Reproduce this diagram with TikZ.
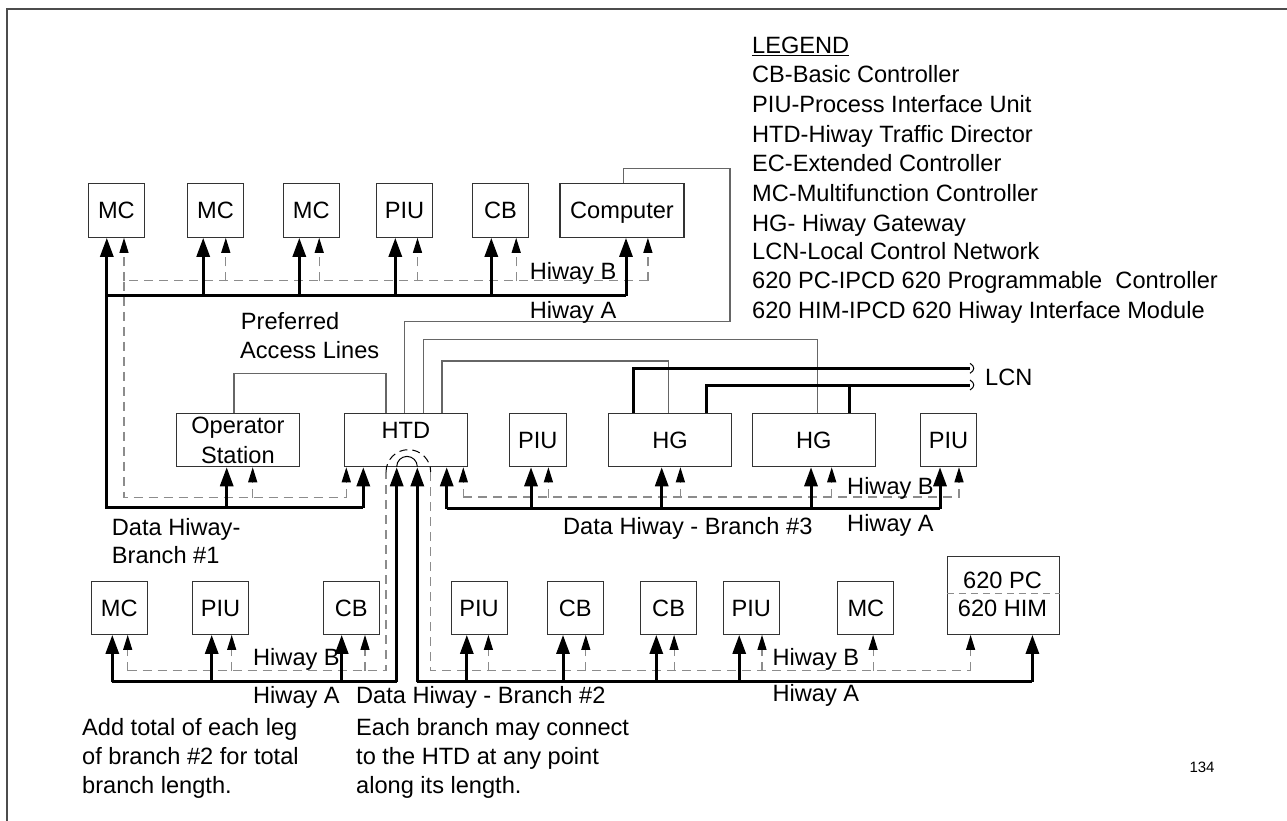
\documentclass[tikz,border=0pt]{standalone}
\usepackage{fontspec}
\setmainfont{Liberation Sans}
\usetikzlibrary{arrows.meta,calc}
\newcommand\fsz{\fontsize{23.6}{29.4}\selectfont}
\newcommand\sA[3]{\draw[hwA,-{Triangle[width=13pt,length=19pt]}] ([xshift=#2pt,yshift=-#3pt]#1.south) -- ([xshift=#2pt]#1.south);}
\newcommand\sB[3]{\draw[hwB,-{Triangle[width=9pt,length=15pt,color=black]}] ([xshift=#2pt,yshift=-#3pt]#1.south) -- ([xshift=#2pt]#1.south);}
\begin{document}
\begin{tikzpicture}[x=1pt,y=-1pt,
  box/.style={draw=black!80, line width=1.1pt, inner sep=0pt, font=\fsz, minimum height=54pt, minimum width=56pt},
  sbox/.style={box, text height=16.9pt, text depth=0pt},
  lbl/.style={inner sep=0pt, font=\fsz, anchor=base west},
  hwA/.style={draw=black, line width=3pt},
  hwB/.style={draw=black!45, line width=1.2pt, dash pattern=on 9pt off 6pt},
  acc/.style={draw=black!60, line width=1.2pt},
  lcn/.style={draw=black, line width=3pt},
  frame/.style={draw=black!70, line width=1.3pt}]
\useasboundingbox (0,0) rectangle (1287,821);
% page frame
\coordinate (f1) at (1287,9);
\coordinate (f2) at (7,9);
\coordinate (f3) at (7,821);
\draw[frame] (f1) -- (f2) -- (f3);

% ---------- top row ----------
\node[sbox] (t1) at (116.4,210.3) {MC};
\node[sbox] (t2) at (215.5,210.3) {MC};
\node[sbox] (t3) at (311.2,210.3) {MC};
\node[sbox] (t4) at (404.5,210.3) {PIU};
\node[sbox] (t5) at (500.4,210.3) {CB};
\node[sbox, minimum width=124pt] (t6) at (622,210.3) {Computer};

% ---------- middle row ----------
\node[box, minimum height=53.4pt, minimum width=122.8pt, align=center, font=\fontsize{23.6}{30}\selectfont] (os) at (237.9,440) {Operator\\Station};
\node[box, minimum height=53.4pt, minimum width=123.2pt] (htd) at (405.9,440) {};
\node[inner sep=0pt, font=\fsz, anchor=base] (htdl) at (405.9,438.3) {HTD};
\node[sbox, minimum height=53.4pt, minimum width=57pt] (p1) at (537.8,440) {PIU};
\node[sbox, minimum height=53.4pt, minimum width=123.4pt] (hg1) at (670,440) {HG};
\node[sbox, minimum height=53.4pt, minimum width=122.7pt] (hg2) at (813.7,440) {HG};
\node[sbox, minimum height=53.4pt] (p2) at (948.5,440) {PIU};

% ---------- bottom row ----------
\node[sbox, minimum height=53.3pt] (b1) at (119.2,607.7) {MC};
\node[sbox, minimum height=53.3pt] (b2) at (220.5,607.7) {PIU};
\node[sbox, minimum height=53.3pt] (b3) at (351.3,607.7) {CB};
\node[sbox, minimum height=53.3pt] (b4) at (479.1,607.7) {PIU};
\node[sbox, minimum height=53.3pt] (b5) at (575.3,607.7) {CB};
\node[sbox, minimum height=53.3pt] (b6) at (668.6,607.7) {CB};
\node[sbox, minimum height=53.3pt] (b7) at (751.3,607.7) {PIU};
\node[sbox, minimum height=53.3pt] (b8) at (865.9,607.7) {MC};
\node[box, minimum height=78.3pt, minimum width=112.3pt] (b9) at (1003.6,595.2) {};
\node[inner sep=0pt, font=\fsz, anchor=base] (b9a) at (1002.5,588) {620 PC};
\node[inner sep=0pt, font=\fsz, anchor=base] (b9b) at (1002.5,616.5) {620 HIM};
\draw[hwB, line width=1pt, dash pattern=on 7pt off 5pt] (b9.west |- 0,593.3) -- (b9.east |- 0,593.3);

% ---------- access lines ----------
\draw[acc] ([xshift=-3.9pt]os.north) -- ++(0,-39) -| ([xshift=-19.9pt]htd.north);
\coordinate (c1) at (730,321.7);
\draw[acc] ([xshift=1.4pt]t6.north) -- ++(0,-14) -| (c1) -| ([xshift=-1.5pt]htd.north);
\draw[acc] ([xshift=17.4pt]htd.north) -- ++(0,-73.3) -| ([xshift=4pt]hg2.north);
\draw[acc] ([xshift=36.1pt]htd.north) -- ++(0,-51.8) -| ([xshift=-1.7pt]hg1.north);

% ---------- LCN ----------
\coordinate (l1) at (970,368.3);
\coordinate (l2) at (970,385);
\draw[lcn] ([xshift=-36.7pt]hg1.north) |- (l1);
\draw[lcn] ([xshift=36pt]hg1.north) |- (l2);
\draw[lcn] ([xshift=35.6pt]hg2.north) -- ++(0,-28.3);
\draw[line width=1pt] ([yshift=5pt]l1) .. controls ([xshift=5pt,yshift=2pt]l1) and ([xshift=5pt,yshift=-2pt]l1) .. ([yshift=-5pt]l1);
\draw[line width=1pt] ([yshift=5pt]l2) .. controls ([xshift=5pt,yshift=2pt]l2) and ([xshift=5pt,yshift=-2pt]l2) .. ([yshift=-5pt]l2);
\node[lbl] (lcnl) at (985,385) {LCN};

% ---------- top hiways ----------
\coordinate (a1) at (626,295.5);
\coordinate (a2) at (106.8,295.5);
\coordinate (a3) at (106.8,507.7);
\coordinate (a4) at (363.3,507.7);
\draw[hwA] (a1) -- (a2) -- (a3) -- (a4);
\coordinate (bb1) at (647.9,280.7);
\coordinate (bb2) at (124,280.7);
\coordinate (bb3) at (124,497.3);
\coordinate (bb4) at (346.3,497.3);
\draw[hwB] (bb1) -- (bb2) -- (bb3) -- (bb4);
\sA{t1}{-9.6}{58.2} \sB{t1}{7.6}{43.4}
\sA{t2}{-12.3}{58.2} \sB{t2}{10.3}{43.4}
\sA{t3}{-11.9}{58.2} \sB{t3}{8}{43.4}
\sA{t4}{-9.2}{58.2} \sB{t4}{13}{43.4}
\sA{t5}{-9.1}{58.2} \sB{t5}{15.8}{43.4}
\sA{t6}{4}{58.2} \sB{t6}{25.9}{43.4}

% branch 1
\sA{os}{-11.2}{41} \sB{os}{14.8}{30.6}
\sA{htd}{-42.6}{41} \sB{htd}{-59.6}{30.6}

% branch 3
\coordinate (d1) at (446.7,508.5);
\coordinate (d2) at (940,508.5);
\draw[hwA] (d1) -- (d2);
\coordinate (e1) at (463.3,497);
\coordinate (e2) at (959,497);
\draw[hwB] (e1) -- (e2);
\sA{htd}{40.8}{41.8} \sB{htd}{57.4}{30.3}
\sA{p1}{-6.8}{41.8} \sB{p1}{10.6}{30.3}
\sA{hg1}{-8.3}{41.8} \sB{hg1}{10.4}{30.3}
\sA{hg2}{-2.7}{41.8} \sB{hg2}{18}{30.3}
\sA{p2}{-8.5}{41.8} \sB{p2}{10.5}{30.3}

% branch 2
\coordinate (g1) at (112.3,681.7);
\coordinate (g2) at (396.7,681.7);
\coordinate (g3) at (417.3,681.7);
\coordinate (g4) at (1032.4,681.7);
\draw[hwA] (g1) -- (g2);
\draw[hwA] (g3) -- (g4);
\sA{htd}{-9.2}{215}
\sA{htd}{11.4}{215}
\coordinate (h1) at (127.7,670.5);
\coordinate (h2) at (386,670.5);
\coordinate (h3) at (386,472);
\coordinate (h4) at (430.7,472);
\coordinate (h5) at (430.7,670.5);
\coordinate (h6) at (970.6,670.5);
\draw[hwB] (h1) -- (h2) -- (h3);
\draw[hwB] (h4) -- (h5) -- (h6);
\draw[black, line width=1pt, dash pattern=on 8pt off 5pt] (h3) arc (180:360:22.35);
\coordinate (k1) at (396.7,466.7);
\draw[black, line width=1pt] (k1) arc (180:360:10.3);
\sA{b1}{-6.9}{47.4} \sB{b1}{8.5}{36.2}
\sA{b2}{-8.8}{47.4} \sB{b2}{11.2}{36.2}
\sA{b3}{-9.6}{47.4} \sB{b3}{13.7}{36.2}
\sA{b4}{-12.3}{47.4} \sB{b4}{9.3}{36.2}
\sA{b5}{-12.3}{47.4} \sB{b5}{10.5}{36.2}
\sA{b6}{-12.3}{47.4} \sB{b6}{5.5}{36.2}
\sA{b7}{-12.1}{47.4} \sB{b7}{10.7}{36.2}
\sB{b8}{7.2}{36.2}
\sA{b9}{28.8}{47.4} \sB{b9}{-33}{36.2}

% ---------- labels ----------
\node[lbl] (hb1) at (529.6,279) {Hiway B};
\node[lbl] (ha1) at (529.6,318) {Hiway A};
\node[lbl] (pal1) at (240.7,329) {Preferred};
\node[lbl] (pal2) at (240,358.3) {Access Lines};
\node[lbl] (db1a) at (111.7,535) {Data Hiway-};
\node[lbl] (db1b) at (111.7,563.3) {Branch \#1};
\node[lbl] (hb3) at (847,494) {Hiway B};
\node[lbl] (ha3) at (847,531.7) {Hiway A};
\node[lbl] (db3) at (563,534) {Data Hiway - Branch \#3};
\node[lbl] (hb2l) at (253,665) {Hiway B};
\node[lbl] (ha2l) at (253,703.3) {Hiway A};
\node[lbl] (hb2r) at (772.4,665) {Hiway B};
\node[lbl] (ha2r) at (772.4,701) {Hiway A};
\node[lbl] (db2) at (356,703.3) {Data Hiway - Branch \#2};
\node[lbl] (n1) at (356,735) {Each branch may connect};
\node[lbl] (n2) at (356,764) {to the HTD at any point};
\node[lbl] (n3) at (356,793) {along its length.};
\node[lbl] (m1) at (82,735) {Add total of each leg};
\node[lbl] (m2) at (82,764) {of branch \#2 for total};
\node[lbl] (m3) at (82,793) {branch length.};
\node[inner sep=0pt, anchor=base west, font=\fontsize{15}{18}\selectfont] (pg) at (1189.3,772.7) {134};

% ---------- legend ----------
\node[lbl] (lg0) at (752,53.3) {\underline{LEGEND}};
\node[lbl] (lg1) at (752,83) {CB-Basic Controller};
\node[lbl] (lg2) at (752,113) {PIU-Process Interface Unit};
\node[lbl] (lg3) at (752,143) {HTD-Hiway Traffic Director};
\node[lbl] (lg4) at (752,172) {EC-Extended Controller};
\node[lbl] (lg5) at (752,201) {MC-Multifunction Controller};
\node[lbl] (lg6) at (752,231) {HG- Hiway Gateway};
\node[lbl] (lg7) at (752,259) {LCN-Local Control Network};
\node[lbl] (lg8) at (752,288) {620 PC-IPCD 620 Programmable\ \ Controller};
\node[lbl] (lg9) at (752,318) {620 HIM-IPCD 620 Hiway Interface Module};
\end{tikzpicture}
\end{document}
